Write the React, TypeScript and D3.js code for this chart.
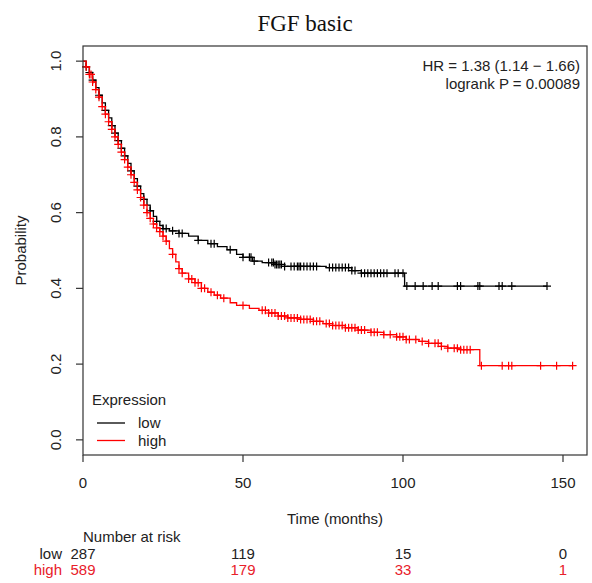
import React from "react";
import * as d3 from "d3";

const title = "FGF basic";
const groups = ["low", "high"];
const groupColors = ["#000000", "#ff0000"];
const xTicks = [0, 50, 100, 150];
const yTicks = [0, 0.2, 0.4, 0.6, 0.8, 1.0];
const riskLow = [287, 119, 15, 0];
const riskHigh = [589, 179, 33, 1];
const hrText = "HR = 1.38 (1.14 \u2212 1.66)";
const pText = "logrank P = 0.00089";

// Kaplan-Meier steps [time, survival]
const lowTimes = [0, 1, 2, 3, 4, 5, 6, 7, 8, 9, 10, 11, 12, 13, 14, 15, 16, 17, 18, 19, 20, 21, 22, 23, 24, 25, 27, 30, 33, 36, 39, 42, 45, 48, 50, 53, 56, 60, 63, 76, 84, 87, 100.5];
const lowSurv = [1.0, 0.985, 0.97, 0.95, 0.93, 0.91, 0.89, 0.87, 0.85, 0.83, 0.81, 0.79, 0.77, 0.75, 0.73, 0.71, 0.69, 0.67, 0.65, 0.635, 0.62, 0.605, 0.59, 0.577, 0.566, 0.558, 0.552, 0.545, 0.538, 0.527, 0.518, 0.51, 0.502, 0.49, 0.482, 0.472, 0.468, 0.463, 0.458, 0.455, 0.447, 0.44, 0.406];
const lowEnd = 145;
const lowCensor = [1, 2, 3, 5, 7, 9, 10, 11, 12, 13, 15, 17, 19, 21, 23, 25, 26, 28, 30, 31, 36, 40, 41, 46, 50, 52, 52.5, 53.5, 58, 59, 59.5, 60, 60.5, 61, 61.5, 62, 63, 65, 66, 67, 67.5, 68, 69, 70, 71, 72, 73, 77, 78, 79, 80, 81, 82, 83, 84, 85, 87, 88, 89, 90, 91, 92, 93, 94, 95, 97.5, 98.5, 100, 101.2, 103.8, 106.3, 109.1, 111, 117, 118, 123.4, 124, 130, 131, 134, 145];

const highTimes = [0, 1, 2, 3, 4, 5, 6, 7, 8, 9, 10, 11, 12, 13, 14, 15, 16, 17, 18, 19, 20, 21, 22, 23, 24, 25, 26, 27, 28, 29, 30, 31, 33, 35, 37, 39, 41, 43, 46, 48, 52, 55, 58, 61, 64, 68, 72, 75, 78, 82, 86, 90, 94, 98, 101, 105, 108, 112, 114, 118, 124];
const highSurv = [1.0, 0.985, 0.965, 0.945, 0.925, 0.905, 0.88, 0.86, 0.84, 0.82, 0.8, 0.78, 0.76, 0.74, 0.72, 0.70, 0.68, 0.66, 0.64, 0.62, 0.60, 0.585, 0.57, 0.56, 0.55, 0.538, 0.525, 0.505, 0.49, 0.47, 0.452, 0.44, 0.425, 0.415, 0.40, 0.39, 0.382, 0.374, 0.362, 0.355, 0.347, 0.342, 0.335, 0.327, 0.322, 0.318, 0.313, 0.307, 0.302, 0.296, 0.29, 0.284, 0.278, 0.272, 0.265, 0.26, 0.255, 0.247, 0.242, 0.238, 0.196];
const highEnd = 153;
const highCensor = [1, 2, 2.5, 3, 4, 5, 6, 7, 8, 9, 10, 11, 12, 13, 14, 15, 16, 17, 18, 19, 20, 21, 22, 23, 24, 25, 26, 28, 30, 31, 33, 34, 35, 36, 37, 38, 40, 42, 44, 50, 56, 57, 58, 59, 60, 61, 62, 63, 64, 65, 66, 67, 68, 69, 70, 71, 72, 73, 74, 76, 77, 78, 79, 80, 81, 82, 83, 84, 85, 86, 87, 88, 90, 91, 92, 94, 96, 98, 99, 100, 101, 102, 104, 106, 108, 110, 111, 112, 114, 116, 117, 118, 119, 120, 121, 124.5, 131, 133, 134, 143, 148, 153];

const W = 592;
const H = 583;
const L = 83, R = 587, T = 46, B = 455;
const font = "Liberation Sans, Arial, sans-serif";
const fs = 15;

function survAt(times: number[], surv: number[], t: number) {
  let s = surv[0];
  for (let i = 0; i < times.length; i++) if (times[i] <= t) s = surv[i];
  return s;
}

export default function App() {
  const x = d3.scaleLinear().domain([0, 157.5]).range([L, R]);
  const y = d3.scaleLinear().domain([-0.04, 1.04]).range([B, T]);
  const line = d3
    .line<[number, number]>()
    .x((d) => x(d[0]))
    .y((d) => y(d[1]))
    .curve(d3.curveStepAfter);

  const series = [
    { times: lowTimes, surv: lowSurv, end: lowEnd, censor: lowCensor, color: groupColors[0] },
    { times: highTimes, surv: highSurv, end: highEnd, censor: highCensor, color: groupColors[1] },
  ];

  return (
    <svg width={W} height={H} style={{ display: "block", position: "absolute", left: 0, top: 0, background: "#fff" }}>
      <rect x={0} y={0} width={W} height={H} fill="#fff" />
      <text x={305} y={31} textAnchor="middle" fontFamily="Liberation Serif, Times New Roman, serif" fontSize={23} fill="#111">
        {title}
      </text>
      {series.map((s, i) => {
        const pts: [number, number][] = s.times.map((t, j) => [t, s.surv[j]] as [number, number]);
        pts.push([s.end, s.surv[s.surv.length - 1]]);
        return (
          <g key={i}>
            <path d={line(pts) || ""} fill="none" stroke={s.color} strokeWidth={1.3} />
            {s.censor.map((c, k) => {
              const cx = x(c);
              const cy = y(survAt(s.times, s.surv, c));
              return (
                <path key={k} d={`M${cx - 4},${cy}H${cx + 4}M${cx},${cy - 4}V${cy + 4}`} stroke={s.color} strokeWidth={1.2} />
              );
            })}
          </g>
        );
      })}
      <rect x={L} y={T} width={R - L} height={B - T} fill="none" stroke="#333" strokeWidth={1.2} />
      {yTicks.map((t) => (
        <g key={t}>
          <line x1={L - 7} x2={L} y1={y(t)} y2={y(t)} stroke="#333" strokeWidth={1.2} />
          <text transform={`translate(61,${y(t)}) rotate(-90)`} textAnchor="middle" fontFamily={font} fontSize={fs} fill="#222">
            {t.toFixed(1)}
          </text>
        </g>
      ))}
      {xTicks.map((t) => (
        <g key={t}>
          <line x1={x(t)} x2={x(t)} y1={B} y2={B + 7} stroke="#333" strokeWidth={1.2} />
          <text x={x(t)} y={488} textAnchor="middle" fontFamily={font} fontSize={fs} fill="#222">
            {t}
          </text>
        </g>
      ))}
      <text transform={`translate(26,${(T + B) / 2}) rotate(-90)`} textAnchor="middle" fontFamily={font} fontSize={fs} fill="#222">
        Probability
      </text>
      <text x={(L + R) / 2} y={524} textAnchor="middle" fontFamily={font} fontSize={fs} fill="#222">
        Time (months)
      </text>
      <text x={580} y={71} textAnchor="end" fontFamily={font} fontSize={fs} fill="#222">
        {hrText}
      </text>
      <text x={580} y={89} textAnchor="end" fontFamily={font} fontSize={fs} fill="#222">
        {pText}
      </text>
      <text x={92} y={405} fontFamily={font} fontSize={fs} fill="#222">
        Expression
      </text>
      {groups.map((g, i) => (
        <g key={g}>
          <line x1={97} x2={125} y1={423 + i * 17.5} y2={423 + i * 17.5} stroke={groupColors[i]} strokeWidth={1.3} />
          <text x={138} y={428 + i * 17.5} fontFamily={font} fontSize={fs} fill="#222">
            {g}
          </text>
        </g>
      ))}
      <text x={83} y={542} fontFamily={font} fontSize={fs} fill="#222">
        Number at risk
      </text>
      {[riskLow, riskHigh].map((row, i) => (
        <g key={i} fill={i === 0 ? "#222" : "#e8202a"}>
          <text x={62} y={559 + i * 16} textAnchor="end" fontFamily={font} fontSize={fs}>
            {groups[i]}
          </text>
          {row.map((v, j) => (
            <text key={j} x={x(xTicks[j])} y={559 + i * 16} textAnchor="middle" fontFamily={font} fontSize={fs}>
              {v}
            </text>
          ))}
        </g>
      ))}
    </svg>
  );
}
